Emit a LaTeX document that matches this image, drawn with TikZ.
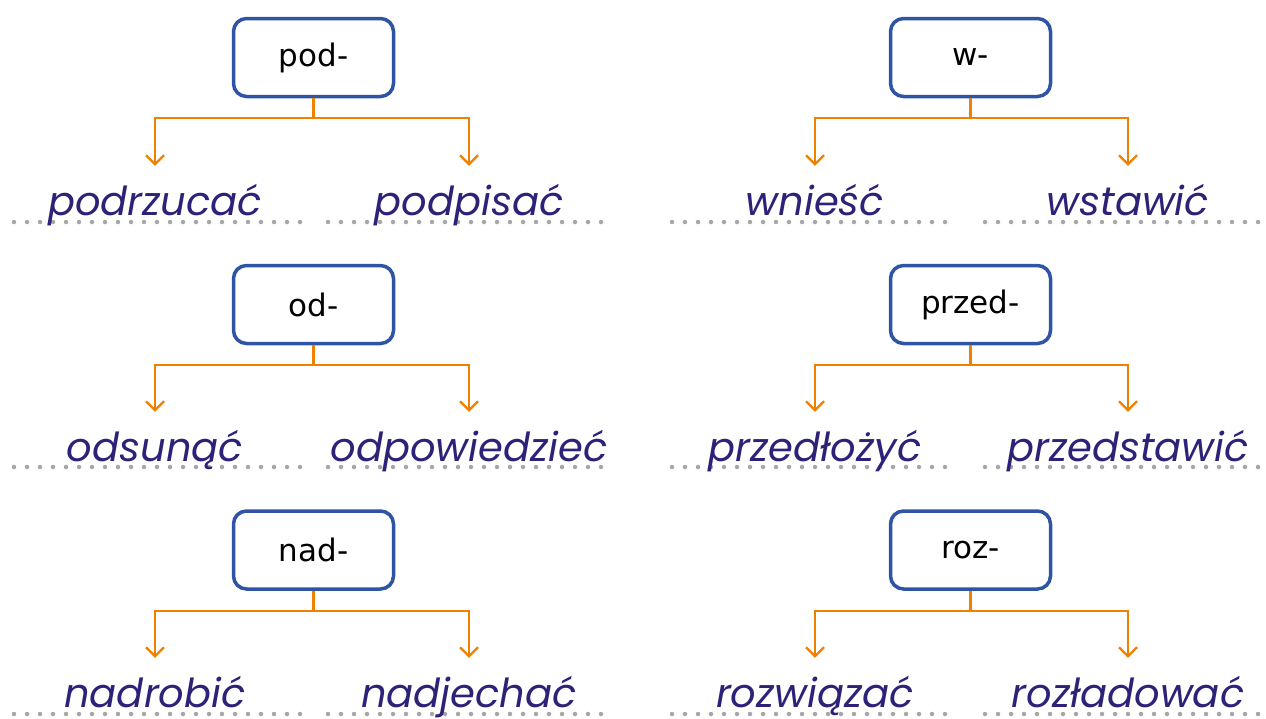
\documentclass[tikz,border=0pt]{standalone}
\usepackage{fontspec}
\setmainfont{DejaVu Sans}
\newfontfamily\hand{Poppins}
\usetikzlibrary{arrows.meta}
\definecolor{boxblue}{RGB}{47,84,163}
\definecolor{arrorange}{RGB}{240,128,0}
\definecolor{wordblue}{RGB}{44,34,120}
\definecolor{dotgray}{RGB}{166,166,166}
\begin{document}
\begin{tikzpicture}[x=1pt,y=-1pt,
  pbox/.style={draw=boxblue,line width=3.5pt,rounded corners=13pt,minimum width=160pt,minimum height=78pt,fill=white,inner sep=0pt,font=\fontsize{31}{34}\selectfont},
  word/.style={font=\hand\itshape\fontsize{40}{44}\selectfont,text=wordblue,anchor=base,inner sep=0pt,text height=49pt,text depth=0pt},
  conn/.style={draw=arrorange,line width=2.2pt,-{Straight Barb[length=9pt,width=18pt,line width=2.2pt]}},
  dotline/.style={draw=dotgray,line width=4.5pt,line cap=round,dash pattern=on 0pt off 13pt}]
\path[use as bounding box] (0,0) rectangle (1266,718);
% dotted writing lines
\foreach \yy in {222,467,714}{
  \draw[dotline] (14,\yy) -- (301,\yy);
  \draw[dotline] (328,\yy) -- (614,\yy);
  \draw[dotline] (672,\yy) -- (958,\yy);
  \draw[dotline] (985,\yy) -- (1266,\yy);
}
% prefix boxes
\node[pbox] (pod) at (313.5,57.5) {pod-};
\node[pbox] (od) at (313.5,304.5) {od-};
\node[pbox] (nad) at (313.5,550) {nad-};
\node[pbox] (w) at (970.5,57.5) {w-};
\node[pbox] (przed) at (970.5,304.5) {przed-};
\node[pbox] (roz) at (970.5,550) {roz-};
% words
\node[word] (pod1) at (155,215) {podrzucać};
\node[word] (pod2) at (469,215) {podpisać};
\node[word] (od1) at (155,461) {odsunąć};
\node[word] (od2) at (469,461) {odpowiedzieć};
\node[word] (nad1) at (155,707) {nadrobić};
\node[word] (nad2) at (469,707) {nadjechać};
\node[word] (w1) at (815,215) {wnieść};
\node[word] (w2) at (1128,215) {wstawić};
\node[word] (przed1) at (815,461) {przedłożyć};
\node[word] (przed2) at (1128,461) {przedstawić};
\node[word] (roz1) at (815,707) {rozwiązać};
\node[word] (roz2) at (1128,707) {rozładować};
% connectors
\foreach \b/\l/\r in {pod/pod1/pod2,od/od1/od2,nad/nad1/nad2,w/w1/w2,przed/przed1/przed2,roz/roz1/roz2}{
  \draw[conn] (\b.south) -- ++(0,20) -| (\l.north);
  \draw[conn] (\b.south) -- ++(0,20) -| (\r.north);
}
\end{tikzpicture}
\end{document}
